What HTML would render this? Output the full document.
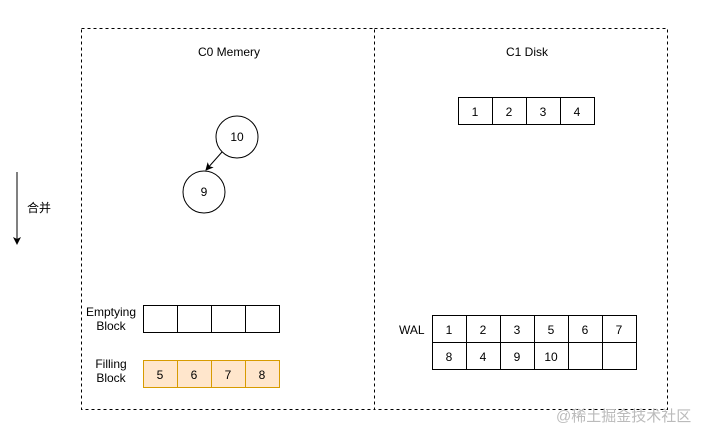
<!DOCTYPE html>
<html><head><meta charset="utf-8"><style>body{margin:0;background:#fff}</style></head><body>
<svg width="701" height="439" xmlns="http://www.w3.org/2000/svg" font-family="Liberation Sans, Noto Sans CJK SC, sans-serif" font-size="12">
<defs><marker id="a" markerWidth="8" markerHeight="8" refX="7" refY="4" orient="auto" markerUnits="userSpaceOnUse"><path d="M0,0 L8,4 L0,8 L2,4 z" fill="#000"/></marker></defs>
<rect x="81.5" y="28.5" width="293" height="381" fill="none" stroke="#000" stroke-dasharray="3,3"/>
<rect x="374.5" y="28.5" width="293" height="381" fill="none" stroke="#000" stroke-dasharray="3,3"/>
<text x="229" y="56" text-anchor="middle">C0 Memery</text>
<text x="527" y="56" text-anchor="middle">C1 Disk</text>
<circle cx="237" cy="137" r="21" fill="#fff" stroke="#000"/>
<text x="237" y="141" text-anchor="middle">10</text>
<circle cx="204" cy="192" r="21" fill="#fff" stroke="#000"/>
<text x="204" y="196" text-anchor="middle">9</text>
<line x1="222" y1="152" x2="206" y2="170" stroke="#000" marker-end="url(#a)"/>
<line x1="17" y1="172" x2="17" y2="244" stroke="#000" marker-end="url(#a)"/>
<text x="27" y="212">合并</text>
<g stroke="#000" fill="#fff">
<rect x="458.5" y="97.5" width="34" height="27"/><rect x="492.5" y="97.5" width="34" height="27"/><rect x="526.5" y="97.5" width="34" height="27"/><rect x="560.5" y="97.5" width="34" height="27"/>
<rect x="143.5" y="305.5" width="34" height="27"/><rect x="177.5" y="305.5" width="34" height="27"/><rect x="211.5" y="305.5" width="34" height="27"/><rect x="245.5" y="305.5" width="34" height="27"/>
</g>
<g stroke="#d79b00" fill="#ffe6cc">
<rect x="143.5" y="360.5" width="34" height="27"/><rect x="177.5" y="360.5" width="34" height="27"/><rect x="211.5" y="360.5" width="34" height="27"/><rect x="245.5" y="360.5" width="34" height="27"/>
</g>
<g stroke="#000" fill="#fff">
<rect x="432.5" y="315.5" width="34" height="27"/><rect x="466.5" y="315.5" width="34" height="27"/><rect x="500.5" y="315.5" width="34" height="27"/><rect x="534.5" y="315.5" width="34" height="27"/><rect x="568.5" y="315.5" width="34" height="27"/><rect x="602.5" y="315.5" width="34" height="27"/>
<rect x="432.5" y="342.5" width="34" height="27"/><rect x="466.5" y="342.5" width="34" height="27"/><rect x="500.5" y="342.5" width="34" height="27"/><rect x="534.5" y="342.5" width="34" height="27"/><rect x="568.5" y="342.5" width="34" height="27"/><rect x="602.5" y="342.5" width="34" height="27"/>
</g>
<g text-anchor="middle">
<text x="475" y="116">1</text><text x="509" y="116">2</text><text x="543" y="116">3</text><text x="577" y="116">4</text>
<text x="160" y="379">5</text><text x="194" y="379">6</text><text x="228" y="379">7</text><text x="262" y="379">8</text>
<text x="449" y="334">1</text><text x="483" y="334">2</text><text x="517" y="334">3</text><text x="551" y="334">5</text><text x="585" y="334">6</text><text x="619" y="334">7</text>
<text x="449" y="361">8</text><text x="483" y="361">4</text><text x="517" y="361">9</text><text x="551" y="361">10</text>
<text x="111" y="316">Emptying</text><text x="111" y="330">Block</text>
<text x="111" y="368">Filling</text><text x="111" y="382">Block</text>
</g>
<text x="399" y="334">WAL</text>
<text x="556" y="421" fill="#bbb" font-size="15">@稀土掘金技术社区</text>
</svg>
</body></html>
